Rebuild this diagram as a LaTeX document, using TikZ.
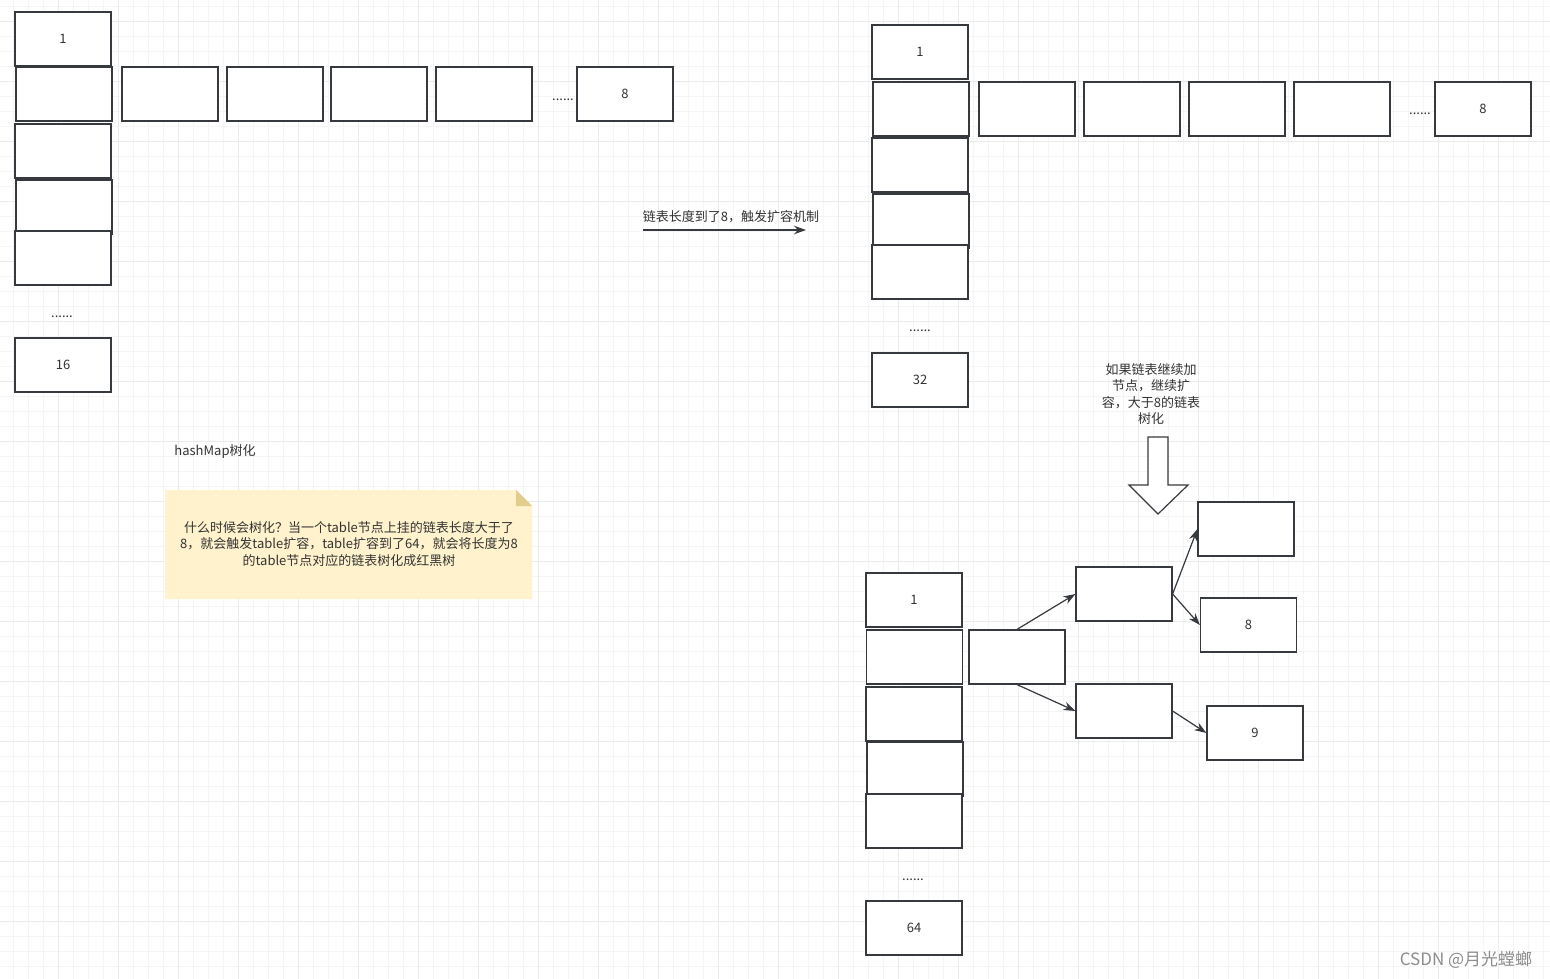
\documentclass[tikz,border=0pt]{standalone}
\usepackage{fontspec}
\setmainfont{Noto Sans CJK SC}
\usetikzlibrary{arrows.meta}
\definecolor{boxline}{HTML}{36393D}
\definecolor{notefill}{HTML}{FFF2CC}
\definecolor{notefold}{HTML}{E3CD8C}
\colorlet{inktext}{black!80}
\tikzset{
  map/grid/.style={black!4, line width=0.8pt},
  map/major/.style={black!8, line width=0.8pt},
  map/box/.style={draw=boxline, line width=1.2pt, fill=white, minimum width=96pt, minimum height=54pt, inner sep=0pt, text=inktext, font=\fontsize{13}{15}\selectfont},
  map/text/.style={inner sep=0pt, text=inktext, font=\fontsize{13}{16.4}\selectfont, align=center},
  map/link/.style={boxline, line width=1.2pt, -{Stealth[length=12pt, width=8.5pt]}}
}

\begin{document}
\begin{tikzpicture}[x=1pt, y=-1pt]
  \useasboundingbox (0,0) rectangle (1550,979);
  \fill[white] (0,0) rectangle (1550,979);
  \foreach \gx in {13,28,...,1550} \draw[map/grid] (\gx,0) -- (\gx,979);
  \foreach \gy in {6,21,...,979} \draw[map/grid] (0,\gy) -- (1550,\gy);
  \foreach \gx in {58,118,...,1550} \draw[map/major] (\gx,0) -- (\gx,979);
  \foreach \gy in {21,81,...,979} \draw[map/major] (0,\gy) -- (1550,\gy);

  \node[map/box] (l1) at (63,39) {1};
  \node[map/box] (l2) at (64,94) {};
  \node[map/box] (l3) at (63,151) {};
  \node[map/box] (l4) at (64,207) {};
  \node[map/box] (l5) at (63,258) {};
  \node[map/text] (ldots) at (62,317) {......};
  \node[map/box] (l16) at (63,365) {16};
  \foreach \x [count=\i] in {170,275,379,484} \node[map/box] (lr\i) at (\x,94) {};
  \node[map/text] (lrdots) at (563,100) {......};
  \node[map/box] (lr8) at (625,94) {8};

  \coordinate (growA) at (643,230);
  \coordinate (growB) at (806,230);
  \draw[map/link] (growA) -- (growB);
  \node[map/text] (growlabel) at (731,217) {链表长度到了8，触发扩容机制};

  \node[map/box] (m1) at (920,52) {1};
  \node[map/box] (m2) at (921,109) {};
  \node[map/box] (m3) at (920,165) {};
  \node[map/box] (m4) at (921,221) {};
  \node[map/box] (m5) at (920,272) {};
  \node[map/text] (mdots) at (920,331) {......};
  \node[map/box] (m32) at (920,380) {32};
  \foreach \x [count=\i] in {1027,1132,1237,1342} \node[map/box] (mr\i) at (\x,109) {};
  \node[map/text] (mrdots) at (1420,114) {......};
  \node[map/box] (mr8) at (1483,109) {8};

  \node[map/text] (hashlabel) at (215,452) {hashMap树化};
  \fill[notefill] (165,490) -- (516,490) -- (532,506) -- (532,599) -- (165,599) -- cycle;
  \fill[notefold] (516,490) -- (532,506) -- (516,506) -- cycle;
  \node[map/text] (note) at (349,544) {什么时候会树化？当一个table节点上挂的链表长度大于了\\8，就会触发table扩容，table扩容到了64，就会将长度为8\\的table节点对应的链表树化成红黑树};

  \node[map/text] (treelabel) at (1151,394) {如果链表继续加\\节点，继续扩\\容，大于8的链表\\树化};
  \draw[boxline, line width=1.2pt, fill=white] (1148,437) -- (1168,437) -- (1168,485) -- (1188,485) -- (1158,514) -- (1129,485) -- (1148,485) -- cycle;

  \node[map/box] (b1) at (914,600) {1};
  \node[map/box] (b2) at (914.5,657) {};
  \node[map/box] (b3) at (914,714) {};
  \node[map/box] (b4) at (915,769) {};
  \node[map/box] (b5) at (914,821) {};
  \node[map/text] (bdots) at (913,880) {......};
  \node[map/box] (b64) at (914,928) {64};

  \node[map/box] (troot) at (1017,657) {};
  \node[map/box] (tl) at (1124,594) {};
  \node[map/box] (tr) at (1124,711) {};
  \node[map/box] (tll) at (1246,529) {};
  \node[map/box] (t8) at (1248.5,625) {8};
  \node[map/box] (t9) at (1255,733) {9};
  \draw[map/link] (troot.north) -- (tl.west);
  \draw[map/link] (troot.south) -- (tr.west);
  \draw[map/link] (tl.east) -- (tll.west);
  \draw[map/link] (tl.east) -- (t8.west);
  \draw[map/link] (tr.east) -- (t9.west);

  \node[inner sep=0pt, text=black!45, font=\fontsize{17}{20}\selectfont] (mark) at (1466,960) {CSDN @月光螳螂};
\end{tikzpicture}
\end{document}
